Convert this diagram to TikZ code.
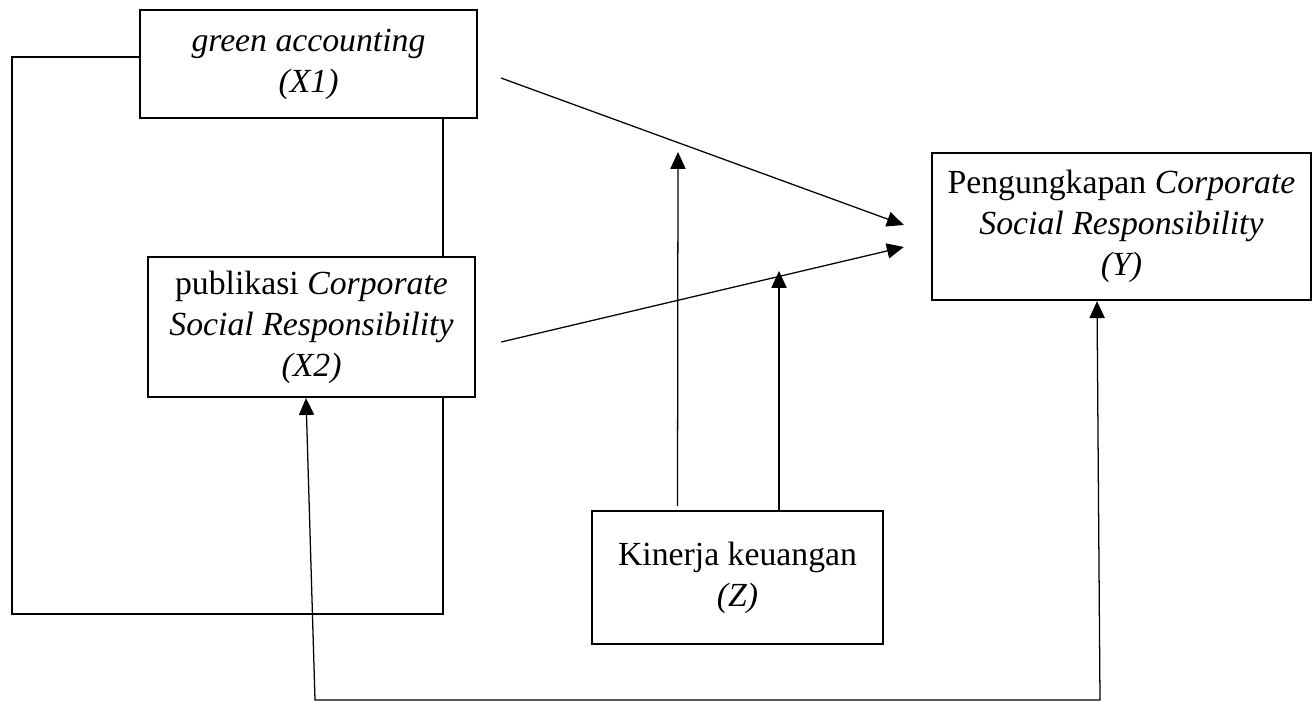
\documentclass[tikz,border=0pt]{standalone}
\usepackage{fontspec}
\setmainfont{Liberation Serif}
\usetikzlibrary{arrows.meta, calc}
\tikzset{
  box/.style={draw, line width=0.75pt, rectangle, align=center, inner sep=0pt,
    font=\fontsize{12}{14.6}\selectfont},
  link/.style={line width=0.75pt},
  arr/.style={line width=0.45pt, -{Triangle[length=6pt,width=5.4pt]}}
}

\begin{document}
\begin{tikzpicture}[x=0.0125cm, y=-0.0125cm]
  \useasboundingbox (0,0) rectangle (1314,702);

  % Define the four variables
  \node[box, minimum width=4.21cm, minimum height=1.35cm] (X1) at (308.5,64)
    {\textit{green accounting}\\\textit{(X1)}};
  \node[box, minimum width=4.09cm, minimum height=1.75cm] (X2) at (311.5,327)
    {publikasi \textit{Corporate}\\\textit{Social Responsibility}\\\textit{(X2)}};
  \node[box, minimum width=4.74cm, minimum height=1.84cm] (Y) at (1121.5,226.5)
    {Pengungkapan \textit{Corporate}\\\textit{Social Responsibility}\\\textit{(Y)}};
  \node[box, minimum width=3.64cm, minimum height=1.66cm] (Z) at (737.5,577.5)
    {Kinerja keuangan\\\textit{(Z)}};

  % Free ends of the connectors
  \coordinate (lt) at (12,57);
  \coordinate (lb) at (12,614);
  \coordinate (rb) at (443,614);
  \coordinate (x1out) at ($(X1.east)+(23,14)$);
  \coordinate (x2out) at ($(X2.east)+(25,15)$);
  \coordinate (yin1) at ($(Y.west)+(-27,-1.5)$);
  \coordinate (yin2) at ($(Y.west)+(-27,20.5)$);
  \coordinate (z1top) at (678,152);
  \coordinate (z2top) at (779,271);
  \coordinate (bl) at (315,700);
  \coordinate (br) at (1100,700);

  % Bracket joining X1 and X2
  \draw[link] (X1.west |- lt) -- (lt) -- (lb) -- (rb) -- (rb |- X2.south);
  \draw[link] (rb |- X1.south) -- (rb |- X2.north);

  % Direct effects on Y
  \draw[arr] (x1out) -- (yin1);
  \draw[arr] (x2out) -- (yin2);

  % Moderation by Z
  \draw[arr] ($(Z.north)+(-60,-4)$) -- (z1top);
  \draw[arr] (Z.north -| z2top) -- (z2top);

  % Bottom link between X2 and Y
  \draw[arr, {Triangle[length=6pt,width=5.4pt]}-{Triangle[length=6pt,width=5.4pt]}]
    ($(X2.south)+(-5.5,0)$) -- (bl) -- (br) -- ($(Y.south)+(-24.5,0)$);
\end{tikzpicture}
\end{document}
